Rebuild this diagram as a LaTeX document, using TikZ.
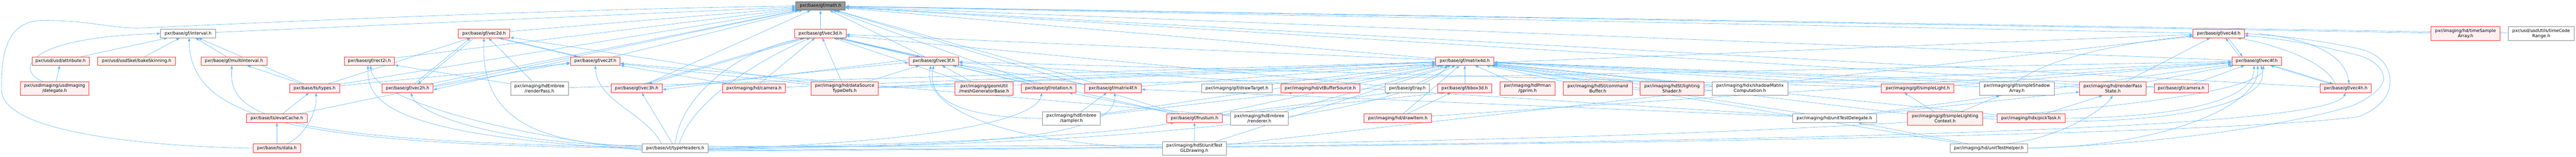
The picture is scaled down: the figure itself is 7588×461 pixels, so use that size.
\documentclass[tikz,border=0pt]{standalone}
\usepackage{fontspec}
\newfontfamily\nodefont{DejaVu Sans}
\usetikzlibrary{arrows.meta}
\definecolor{edgeblue}{HTML}{63B8FF}
\definecolor{nodered}{HTML}{FF3030}
\definecolor{nodefill}{HTML}{FFF0F0}
\definecolor{nodegray}{HTML}{8C8C8C}
\definecolor{rootfill}{HTML}{999999}
\definecolor{rootline}{HTML}{666666}
\pgfdeclarelayer{bg}
\pgfsetlayers{bg,main}
\tikzset{
  nd/.style={line width=1.2pt, minimum height=25pt, inner xsep=0pt, inner ysep=0pt, align=center, font=\nodefont\fontsize{12.8}{15}\selectfont, text=black},
  rn/.style={nd, draw=nodered, fill=nodefill},
  gn/.style={nd, draw=nodegray, fill=white},
  rootnode/.style={nd, draw=rootline, fill=rootfill},
  twol/.style={minimum height=40pt},
  edg/.style={draw=edgeblue, line width=1pt, -{Triangle[length=10pt,width=7pt]}},
}
\begin{document}
\begin{tikzpicture}[x=1pt,y=-1pt]
\useasboundingbox (0,0) rectangle (7588,461);
% row A
\node[rootnode, minimum width=146pt] (math) at (2417,17.5) {pxr/base/gf/math.h};
% row B
\node[gn, minimum width=162pt] (interval) at (554,98.5) {pxr/base/gf/interval.h};
\node[rn, minimum width=152pt] (vec2d) at (1426,98.5) {pxr/base/gf/vec2d.h};
\node[rn, minimum width=151pt] (vec3d) at (2416.5,98.5) {pxr/base/gf/vec3d.h};
\node[rn, minimum width=151pt] (vec4d) at (6535.5,98.5) {pxr/base/gf/vec4d.h};
\node[rn, twol, minimum width=203pt] (timeSampleArray) at (7262.5,98.5) {pxr/imaging/hd/timeSample\\Array.h};
\node[gn, twol, minimum width=195pt] (timeCodeRange) at (7485.5,98.5) {pxr/usd/usdUtils/timeCode\\Range.h};
% row C
\node[rn, minimum width=169pt] (attribute) at (178.5,179.5) {pxr/usd/usd/attribute.h};
\node[rn, minimum width=229pt] (bakeSkinning) at (402.5,179.5) {pxr/usd/usdSkel/bakeSkinning.h};
\node[rn, minimum width=194pt] (multiInterval) at (689,179.5) {pxr/base/gf/multiInterval.h};
\node[rn, minimum width=148pt] (rect2i) at (1088,179.5) {pxr/base/gf/rect2i.h};
\node[rn, minimum width=147pt] (vec2f) at (1753.5,179.5) {pxr/base/gf/vec2f.h};
\node[rn, minimum width=147pt] (vec3f) at (2750.5,179.5) {pxr/base/gf/vec3f.h};
\node[rn, minimum width=171pt] (matrix4d) at (4314.5,179.5) {pxr/base/gf/matrix4d.h};
\node[rn, minimum width=147pt] (vec4f) at (6647.5,179.5) {pxr/base/gf/vec4f.h};
% row D
\node[rn, twol, minimum width=202pt] (delegate) at (161,260) {pxr/usdImaging/usdImaging\\/delegate.h};
\node[rn, minimum width=147pt] (types) at (926.5,259.5) {pxr/base/ts/types.h};
\node[rn, minimum width=151pt] (vec2h) at (1200.5,259.5) {pxr/base/gf/vec2h.h};
\node[gn, twol, minimum width=170pt] (renderPassE) at (1589,260) {pxr/imaging/hdEmbree\\/renderPass.h};
\node[rn, minimum width=151pt] (vec3h) at (1875.5,259.5) {pxr/base/gf/vec3h.h};
\node[rn, minimum width=186pt] (hdcamera) at (2221,259.5) {pxr/imaging/hd/camera.h};
\node[rn, twol, minimum width=198pt] (dataSourceTypeDefs) at (2488,260) {pxr/imaging/hd/dataSource\\TypeDefs.h};
\node[rn, twol, minimum width=171pt] (meshGeneratorBase) at (2898.5,260) {pxr/imaging/geomUtil\\/meshGeneratorBase.h};
\node[rn, minimum width=162pt] (rotation) at (3089,259.5) {pxr/base/gf/rotation.h};
\node[rn, minimum width=167pt] (matrix4f) at (3278.5,259.5) {pxr/base/gf/matrix4f.h};
\node[gn, minimum width=209pt] (drawTarget) at (3643.5,259.5) {pxr/imaging/glf/drawTarget.h};
\node[rn, minimum width=232pt] (vtBufferSource) at (3889,259.5) {pxr/imaging/hd/vtBufferSource.h};
\node[gn, minimum width=131pt] (ray) at (4145.5,259.5) {pxr/base/gf/ray.h};
\node[rn, minimum width=159pt] (bbox3d) at (4314.5,259.5) {pxr/base/gf/bbox3d.h};
\node[rn, twol, minimum width=163pt] (gprim) at (4499.5,260) {pxr/imaging/hdPrman\\/gprim.h};
\node[rn, twol, minimum width=203pt] (commandBuffer) at (4706.5,260) {pxr/imaging/hdSt/command\\Buffer.h};
\node[rn, twol, minimum width=188pt] (lightingShader) at (4925,260) {pxr/imaging/hdSt/lighting\\Shader.h};
\node[gn, twol, minimum width=223pt] (shadowMatrix) at (5154.5,260) {pxr/imaging/hdx/shadowMatrix\\Computation.h};
\node[rn, minimum width=214pt] (simpleLight) at (5649,259.5) {pxr/imaging/glf/simpleLight.h};
\node[gn, twol, minimum width=220pt] (simpleShadowArray) at (5941,260) {pxr/imaging/glf/simpleShadow\\Array.h};
\node[rn, twol, minimum width=195pt] (renderPassState) at (6223.5,260) {pxr/imaging/hd/renderPass\\State.h};
\node[rn, minimum width=160pt] (gfcamera) at (6425,259.5) {pxr/base/gf/camera.h};
\node[rn, minimum width=151pt] (vec4h) at (6909.5,259.5) {pxr/base/gf/vec4h.h};
% row E
\node[rn, minimum width=179pt] (evalCache) at (815.5,347.5) {pxr/base/ts/evalCache.h};
\node[gn, twol, minimum width=170pt] (sampler) at (3156,348) {pxr/imaging/hdEmbree\\/sampler.h};
\node[rn, minimum width=163pt] (frustum) at (3518.5,347.5) {pxr/base/gf/frustum.h};
\node[gn, twol, minimum width=171pt] (renderer) at (3709.5,348) {pxr/imaging/hdEmbree\\/renderer.h};
\node[rn, minimum width=199pt] (drawItem) at (4117.5,347.5) {pxr/imaging/hd/drawItem.h};
\node[gn, minimum width=247pt] (unitTestDelegate) at (5403.5,347.5) {pxr/imaging/hd/unitTestDelegate.h};
\node[rn, twol, minimum width=221pt] (simpleLightingContext) at (5729.5,348) {pxr/imaging/glf/simpleLighting\\Context.h};
\node[rn, minimum width=201pt] (pickTask) at (5982.5,347.5) {pxr/imaging/hdx/pickTask.h};
% row F
\node[rn, minimum width=139pt] (data) at (815.5,435.5) {pxr/base/ts/data.h};
\node[gn, minimum width=194pt] (typeHeaders) at (1989,435.5) {pxr/base/vt/typeHeaders.h};
\node[gn, twol, minimum width=188pt] (unitTestGLDrawing) at (3518,436) {pxr/imaging/hdSt/unitTest\\GLDrawing.h};
\node[gn, minimum width=229pt] (unitTestHelper) at (5858.5,435.5) {pxr/imaging/hd/unitTestHelper.h};

\begin{pgfonlayer}{bg}
% ---- to math.h
\foreach \c in {interval,vec2d,vec2f,vec2h,rect2i,vec3d,vec3f,vec3h,vec4d,vec4f,vec4h,matrix4d,matrix4f,types,evalCache,timeSampleArray,timeCodeRange,rotation,frustum,gfcamera}
  {\draw[edg] (\c) -- (math);}
\draw[edg] (data.west) .. controls (500,432) and (20,400) .. (5,270)
  .. controls (0,120) and (40,55) .. (140,60)
  .. controls (280,62) and (330,85) .. (420,82)
  .. controls (600,75) and (1500,30) .. (math.west);
% ---- interval / ts
\draw[edg] (attribute) -- (interval);
\draw[edg] (bakeSkinning) -- (interval);
\draw[edg] (multiInterval) -- (interval);
\draw[edg] (types) -- (interval);
\draw[edg] ([xshift=-35pt]delegate.north) .. controls (50,210) and (60,110) .. (interval.west);
\draw[edg] (delegate) -- (attribute);
\draw[edg] (typeHeaders.west) .. controls (900,425) and (560,360) .. ([xshift=3pt]interval.south);
\draw[edg] ([yshift=3pt]typeHeaders.west) .. controls (760,415) and (675,330) .. ([xshift=-6pt]multiInterval.south);
\draw[edg] (types) -- (multiInterval);
\draw[edg] (evalCache) -- (types);
\draw[edg] (data) -- (evalCache);
\draw[edg] ([xshift=-40pt]data.north east) .. controls (905,395) and (935,320) .. ([xshift=4pt]types.south);
\draw[edg] ([yshift=-3pt]typeHeaders.west) .. controls (1150,400) and (1080,300) .. ([xshift=-4pt]rect2i.south);
\draw[edg] ([yshift=-6pt]typeHeaders.west) .. controls (1400,380) and (1095,280) .. ([xshift=4pt]rect2i.south);
\draw[edg] (renderPassE) -- (rect2i);
% ---- vec2
\draw[edg] ([xshift=-45pt]vec2f.north) -- ([xshift=45pt]vec2d.south);
\draw[edg] ([xshift=38pt]vec2d.south) -- ([xshift=-52pt]vec2f.north);
\draw[edg] ([xshift=20pt]vec2h.north) -- ([xshift=-40pt]vec2d.south);
\draw[edg] ([xshift=-30pt]vec2d.south) -- ([xshift=30pt]vec2h.north);
\draw[edg] ([yshift=4pt]vec2h.east) -- ([yshift=-4pt]vec2f.west);
\draw[edg] ([yshift=4pt]vec2f.west) -- ([yshift=-4pt]vec2h.east);
\draw[edg] (types) -- (vec2d);
\draw[edg] (types) -- (vec2f);
\draw[edg] ([yshift=6pt]typeHeaders.west) .. controls (1550,425) and (1415,330) .. (vec2d.south);
\draw[edg] ([yshift=8pt]typeHeaders.west) .. controls (1500,428) and (1230,340) .. ([xshift=10pt]vec2h.south);
\draw[edg] ([xshift=-40pt]typeHeaders.north) .. controls (1900,330) and (1760,300) .. (vec2f.south);
\draw[edg] (hdcamera) -- (vec2f);
\draw[edg] (dataSourceTypeDefs) -- (vec2f);
\draw[edg] (dataSourceTypeDefs) -- (vec2d);
\draw[edg] (renderer) -- (vec2f);
\draw[edg] (renderPassE) -- (vec2d);
% ---- vec3
\draw[edg] ([xshift=-50pt]vec3f.north) -- ([xshift=45pt]vec3d.south);
\draw[edg] ([xshift=55pt]vec3d.south) -- ([xshift=-40pt]vec3f.north);
\draw[edg] ([xshift=20pt]vec3h.north) -- ([xshift=-50pt]vec3d.south);
\draw[edg] ([xshift=-40pt]vec3d.south) -- ([xshift=35pt]vec3h.north);
\draw[edg] ([yshift=4pt]vec3h.east) -- ([yshift=-4pt]vec3f.west);
\draw[edg] ([yshift=4pt]vec3f.west) -- ([yshift=-4pt]vec3h.east);
\draw[edg] ([xshift=-8pt]typeHeaders.north) -- ([xshift=15pt]vec3h.south);
\draw[edg] (typeHeaders.north) .. controls (2000,300) and (2150,150) .. ([xshift=-45pt]vec3d.south);
\draw[edg] ([xshift=12pt]typeHeaders.north) .. controls (2040,290) and (2250,170) .. ([xshift=-30pt]vec3d.south);
\draw[edg] (sampler.west) .. controls (2800,345) and (2730,280) .. (vec3f.south);
\draw[edg] (unitTestGLDrawing.west) .. controls (2900,420) and (2715,300) .. ([xshift=-8pt]vec3f.south);
\draw[edg] (rotation) -- (vec3d);
\draw[edg] (rotation) -- (vec3f);
\draw[edg] (frustum) -- (vec3d);
\draw[edg] (ray) -- (vec3d);
\draw[edg] (matrix4d) -- (vec3d);
\draw[edg] (meshGeneratorBase) -- (vec3d);
\draw[edg] (meshGeneratorBase) -- (vec3f);
\draw[edg] (dataSourceTypeDefs) -- (vec3d);
\draw[edg] (dataSourceTypeDefs) -- (vec3f);
\draw[edg] (simpleLight) -- (vec3f);
\draw[edg] (unitTestDelegate) -- (vec3f);
\draw[edg] (matrix4f) -- (vec3f);
\draw[edg] (hdcamera) -- (vec3d);
% ---- matrix4d
\foreach \c in {bbox3d,ray,vtBufferSource,frustum,hdcamera,dataSourceTypeDefs,gprim,commandBuffer,lightingShader,shadowMatrix,simpleLight,simpleShadowArray,renderPassState,pickTask,unitTestDelegate,unitTestHelper,unitTestGLDrawing,gfcamera,drawTarget,renderer,sampler,matrix4f,drawItem,simpleLightingContext,renderPassE}
  {\draw[edg] (\c) -- (matrix4d);}
\draw[edg] (typeHeaders.east) .. controls (3400,432) and (4150,330) .. ([xshift=-50pt]matrix4d.south);
% ---- matrix4f
\draw[edg] (sampler) -- (matrix4f);
\draw[edg] (unitTestDelegate) -- (matrix4f);
\draw[edg] ([yshift=-4pt]typeHeaders.east) .. controls (2800,425) and (3290,420) .. ([xshift=5pt]matrix4f.south);
% ---- frustum, rotation, ray, bbox3d, ...
\draw[edg] (unitTestGLDrawing) -- (frustum);
\draw[edg] ([yshift=3pt]typeHeaders.east) .. controls (2800,428) and (3300,390) .. ([xshift=-60pt]frustum.south);
\draw[edg] ([xshift=-55pt]frustum.north) -- ([xshift=60pt]rotation.south);
\draw[edg] ([yshift=-2pt]typeHeaders.east) .. controls (2700,420) and (3050,360) .. ([xshift=-20pt]rotation.south);
\draw[edg] (frustum) -- ([xshift=-50pt]ray.south);
\draw[edg] (frustum) -- ([xshift=-60pt]bbox3d.south);
\draw[edg] (drawItem) -- ([xshift=-40pt]bbox3d.south);
\draw[edg] (sampler) -- ([xshift=-80pt]vtBufferSource.south);
\draw[edg] (pickTask) -- ([xshift=-30pt]renderPassState.south);
\draw[edg] ([xshift=50pt]unitTestHelper.north) .. controls (6050,410) and (6190,330) .. (renderPassState.south);
\draw[edg] (unitTestDelegate) -- ([yshift=-10pt]renderPassState.west);
\draw[edg] (simpleLightingContext) -- ([xshift=-40pt]simpleLight.south);
\draw[edg] (simpleLightingContext) -- ([xshift=-50pt]simpleShadowArray.south);
\draw[edg] ([xshift=-60pt]unitTestHelper.north) -- ([xshift=70pt]unitTestDelegate.south);
% ---- vec4
\draw[edg] ([xshift=-50pt]vec4f.north) -- ([xshift=20pt]vec4d.south);
\draw[edg] ([xshift=28pt]vec4d.south) -- ([xshift=-42pt]vec4f.north);
\draw[edg] ([xshift=-30pt]vec4h.north) .. controls (6850,180) and (6700,130) .. ([xshift=55pt]vec4d.south);
\draw[edg] ([xshift=40pt]vec4d.east) .. controls (6850,120) and (6910,180) .. ([xshift=10pt]vec4h.north);
\draw[edg] ([xshift=-45pt]vec4h.north) -- ([xshift=40pt]vec4f.south);
\draw[edg] ([xshift=48pt]vec4f.south) -- ([xshift=-37pt]vec4h.north);
\draw[edg] (renderPassState) -- (vec4d);
\draw[edg] (simpleShadowArray.north) .. controls (6050,160) and (6300,120) .. (vec4d);
\draw[edg] (dataSourceTypeDefs) -- (vec4d);
\draw[edg] (unitTestGLDrawing) -- (vec4d);
\draw[edg] (gfcamera) -- (vec4f);
\draw[edg] (renderPassState) -- (vec4f);
\draw[edg] (simpleLight) -- (vec4f);
\draw[edg] (unitTestDelegate) -- (vec4f);
\draw[edg] (drawItem) -- (vec4f);
\draw[edg] (dataSourceTypeDefs) -- (vec4f);
\draw[edg] (lightingShader) -- (vec4f);
\draw[edg] (pickTask.east) .. controls (6400,345) and (6640,300) .. ([xshift=-8pt]vec4f.south);
\draw[edg] (unitTestHelper.east) .. controls (6400,430) and (6660,300) .. ([xshift=2pt]vec4f.south);
\draw[edg] (simpleLightingContext.east) .. controls (6300,380) and (6700,320) .. ([xshift=12pt]vec4f.south);
\draw[edg] ([yshift=-6pt]typeHeaders.east) .. controls (5000,425) and (6850,390) .. (vec4h.south);
\draw[edg] ([yshift=6pt]typeHeaders.east) .. controls (5000,440) and (6660,330) .. ([xshift=20pt]vec4f.south);
\draw[edg] ([yshift=-8pt]typeHeaders.east) .. controls (4500,430) and (6500,400) .. (6948,343)
  .. controls (7010,318) and (7042,280) .. (7040,235)
  .. controls (7038,185) and (7000,155) .. (6948,143)
  .. controls (6800,112) and (6700,105) .. (vec4d.east);
\draw[edg] (unitTestHelper.east) .. controls (6500,420) and (6900,330) .. (6948,302)
  .. controls (7000,275) and (7022,250) .. (7021,230)
  .. controls (7020,200) and (6990,175) .. (6948,163)
  .. controls (6800,125) and (6700,112) .. ([yshift=-6pt]vec4d.east);
\end{pgfonlayer}
\end{tikzpicture}
\end{document}
